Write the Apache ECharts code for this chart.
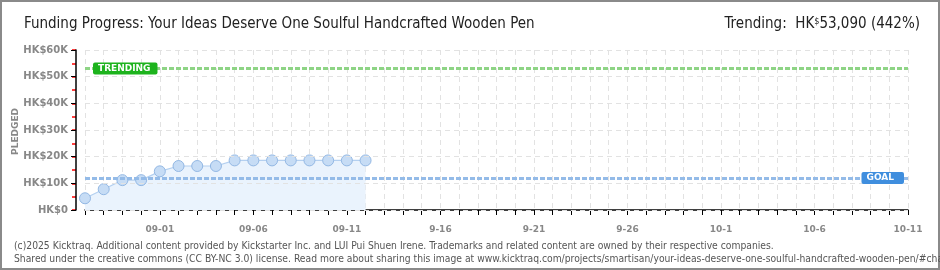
<!DOCTYPE html>
<html><head><meta charset="utf-8">
<script src="https://cdn.jsdelivr.net/npm/echarts@6/dist/echarts.min.js"></script>
<style>html,body{margin:0;padding:0;background:#fff}#c{width:940px;height:270px}</style>
</head><body><div id="c"></div>
<script>
// ---- data ----
const startDate = '2025-08-28';
const dayCount = 45; // 08-28 .. 10-11
const pledged = [4400, 7800, 11200, 11200, 14500, 16500, 16500, 16500, 18600, 18600, 18600, 18600, 18600, 18600, 18600, 18600];
const goal = 12000;
const trending = 53090;
const xTickLabels = ['09-01','09-06','09-11','9-16','9-21','9-26','10-1','10-6','10-11'];
const yTickLabels = ['HK$0','HK$10K','HK$20K','HK$30K','HK$40K','HK$50K','HK$60K'];
const titleText = 'Funding Progress: Your Ideas Deserve One Soulful Handcrafted Wooden Pen';
const footer1 = '(c)2025 Kicktraq. Additional content provided by Kickstarter Inc. and LUI Pui Shuen Irene. Trademarks and related content are owned by their respective companies.';
const footer2 = 'Shared under the creative commons (CC BY-NC 3.0) license. Read more about sharing this image at www.kicktraq.com/projects/smartisan/your-ideas-deserve-one-soulful-handcrafted-wooden-pen/#chart-daily';

const categories = [];
{
  const d0 = new Date(startDate + 'T00:00:00Z');
  for (let i = 0; i < dayCount; i++) {
    const d = new Date(d0.getTime() + i * 86400000);
    categories.push(String(d.getUTCMonth() + 1).padStart(2, '0') + '-' + String(d.getUTCDate()).padStart(2, '0'));
  }
}

const chart = echarts.init(document.getElementById('c'), null, {renderer: 'canvas'});
const labelFont = 'DejaVu Sans Condensed';
chart.setOption({
  animation: false,
  backgroundColor: '#fff',
  title: [
    {text: titleText, left: 19, top: 12, textStyle: {fontFamily: labelFont, fontSize: 15, fontWeight: 'normal', color: '#222'}},
    {text: 'Trending:  HK{s|$}53,090 (442%)', right: 15, top: 12,
     textStyle: {fontFamily: labelFont, fontSize: 15, fontWeight: 'normal', color: '#222',
       rich: {s: {fontFamily: labelFont, fontSize: 9, verticalAlign: 'top', color: '#222', padding: [0,0,4,0]}}}},
    {text: footer1 + '\n' + footer2, left: 9, top: 235,
     textStyle: {fontFamily: 'DejaVu Sans Condensed', fontSize: 10.25, fontWeight: 'normal', color: '#555', lineHeight: 13}}
  ],
  graphic: [
    {type: 'rect', shape: {x: 1, y: 1, width: 938, height: 268}, style: {fill: 'none', stroke: '#8a8a8a', lineWidth: 2}, silent: true},
    {type: 'text', left: 11, top: 108, rotation: Math.PI / 2,
     style: {text: 'PLEDGED', fill: '#888', font: 'bold 9px "DejaVu Sans"'}}
  ],
  grid: {left: 85, right: 32, top: 50, bottom: 60},
  xAxis: {
    type: 'category', data: categories, boundaryGap: false, offset: 9,
    axisLine: {show: true, lineStyle: {color: '#000', width: 1.5}},
    axisTick: {show: true, interval: 0, length: 5, lineStyle: {color: '#000'}},
    axisLabel: {interval: 0, color: '#888', fontFamily: 'DejaVu Sans', fontWeight: 'bold', fontSize: 9, margin: 6,
      formatter: (v, i) => ((i - 4) % 5 === 0 && i >= 4) ? xTickLabels[(i - 4) / 5] : ''},
    splitLine: {show: true, interval: 0, lineStyle: {color: '#e2e2e2', type: [5, 4]}}
  },
  yAxis: [{
    type: 'value', min: 0, max: 60000, interval: 10000, offset: 9, z: 5,
    axisLine: {show: true, lineStyle: {color: '#000', width: 1.5}},
    axisTick: {show: true, length: 5, lineStyle: {color: '#000'}},
    axisLabel: {color: '#888', fontFamily: 'DejaVu Sans', fontWeight: 'bold', fontSize: 10, margin: 8,
      formatter: v => yTickLabels[Math.round(v / 10000)]},
    splitLine: {show: true, lineStyle: {color: '#e2e2e2', type: [5, 4]}}
  }, {
    type: 'value', min: 0, max: 60000, interval: 5000, offset: 9, position: 'left', z: 4,
    axisLine: {show: false},
    axisTick: {show: true, length: 4, lineStyle: {color: '#ff0000', width: 1.5}},
    axisLabel: {show: false},
    splitLine: {show: false}
  }],
  series: [{
    type: 'line', data: pledged, symbol: 'circle', symbolSize: 11,
    lineStyle: {color: '#b4d0f0', width: 1.2},
    itemStyle: {color: '#c6dcf5', borderColor: '#93b8e4', borderWidth: 1},
    areaStyle: {color: '#eaf3fd', opacity: 1},
    z: 3,
    markLine: {
      silent: true, symbol: 'none', animation: false,
      data: [
        {yAxis: goal, lineStyle: {color: '#94bbe8', width: 3, type: [5, 2]},
         label: {show: true, position: 'insideEnd', distance: 4, formatter: 'GOAL', color: '#fff', backgroundColor: '#3f8ede',
           fontFamily: 'DejaVu Sans', fontWeight: 'bold', fontSize: 9, padding: [2, 10, 1, 5], borderRadius: 2}},
        {yAxis: trending, lineStyle: {color: '#8ed485', width: 3, type: [5, 2]},
         label: {show: true, position: 'insideStart', distance: 8, formatter: 'TRENDING', color: '#fff', backgroundColor: '#1db31d',
           fontFamily: 'DejaVu Sans', fontWeight: 'bold', fontSize: 9, padding: [2, 7, 1, 5], borderRadius: 2}}
      ]
    }
  }]
});
</script></body></html>
